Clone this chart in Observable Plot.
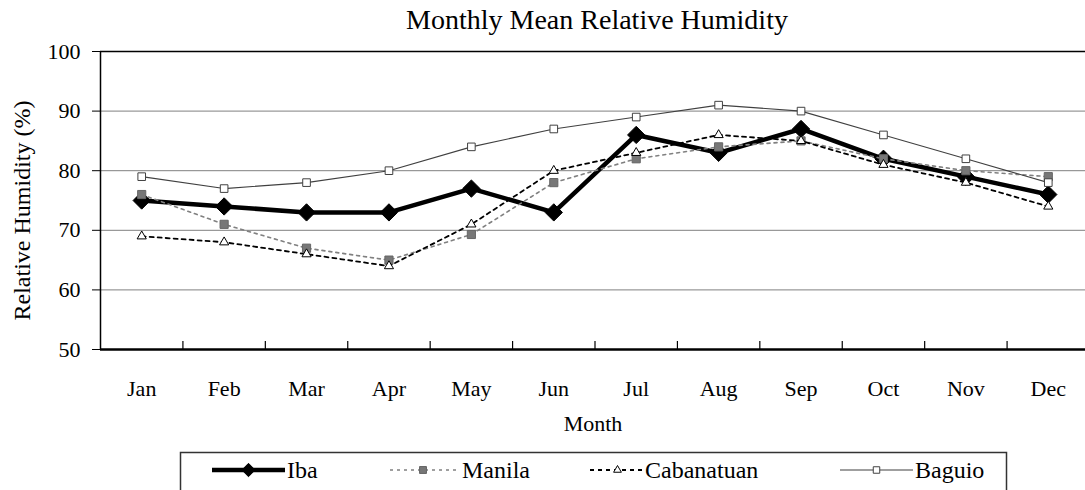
<!DOCTYPE html>
<html>
<head>
<meta charset="utf-8">
<script src="https://cdn.jsdelivr.net/npm/d3@7"></script>
<script src="https://cdn.jsdelivr.net/npm/@observablehq/plot@0.6"></script>
<style>
  html, body { margin: 0; padding: 0; background: #fff; overflow: hidden; width: 1085px; height: 490px; }
  #title { height: 40px; line-height: 40px; font-family: "Liberation Serif", "Times New Roman", serif; font-size: 28px; color: #000; padding-left: 109px; text-align: center; width: 976px; }
  #legend { position: absolute; left: 0; top: 450px; }
  svg text, svg g[aria-label$="tick label"] { font-family: "Liberation Serif", "Times New Roman", serif !important; font-weight: normal !important; }
</style>
</head>
<body>
<div id="title">Monthly Mean Relative Humidity</div>
<div id="chart"></div>
<div id="legend"></div>
<script>
const months = ["Jan","Feb","Mar","Apr","May","Jun","Jul","Aug","Sep","Oct","Nov","Dec"];
const iba        = [75, 74, 73, 73, 77, 73, 86, 83, 87, 82, 79, 76];
const manila     = [76, 71, 67, 65, 69.3, 78, 82, 84, 85, 82, 80, 79];
const cabanatuan = [69, 68, 66, 64, 71, 80, 83, 86, 85, 81, 78, 74];
const baguio     = [79, 77, 78, 80, 84, 87, 89, 91, 90, 86, 82, 78];
const seriesNames = ["Iba", "Manila", "Cabanatuan", "Baguio"];
const yTicks = [50, 60, 70, 80, 90, 100];

const seriesValues = [iba, manila, cabanatuan, baguio];
const FONT = "Liberation Serif";
const styles = {
  Iba:        {stroke: "#000", strokeWidth: 4.5, dash: null,  symbol: "diamond2", r: 7.8, fill: "#000", mstroke: "#000", mwidth: 1},
  Manila:     {stroke: "#808080", strokeWidth: 1.6, dash: "3,4", symbol: "square", r: 4.6, fill: "#777", mstroke: "#666", mwidth: 1},
  Cabanatuan: {stroke: "#000", strokeWidth: 1.8, dash: "4,4", symbol: "triangle", r: 3.4, fill: "#fff", mstroke: "#000", mwidth: 1},
  Baguio:     {stroke: "#404040", strokeWidth: 1.1, dash: null, symbol: "square", r: 4.3, fill: "#fff", mstroke: "#404040", mwidth: 1}
};

const rows = [];
seriesNames.forEach((s, k) => seriesValues[k].forEach((v, i) => rows.push({series: s, i, month: months[i], value: v})));
const xpos = d => d.i + 0.5;

const H = 410, mTop = 11, mBottom = 101;
const plotH = H - mTop - mBottom;

const seriesMarks = seriesNames.flatMap(s => {
  const st = styles[s];
  const data = rows.filter(d => d.series === s);
  return [
    Plot.line(data, {x: xpos, y: "value", stroke: st.stroke, strokeWidth: st.strokeWidth, strokeDasharray: st.dash, strokeLinejoin: "miter"}),
    Plot.dot(data, {x: xpos, y: "value", symbol: st.symbol, r: st.r, fill: st.fill, stroke: st.mstroke, strokeWidth: st.mwidth})
  ];
});

const chart = Plot.plot({
  width: 1085, height: H,
  marginLeft: 100, marginRight: 0, marginTop: mTop, marginBottom: mBottom,
  x: {type: "linear", domain: [0, 12], range: [100, 1089], axis: null},
  y: {domain: [50, 100], axis: null},
  style: {fontFamily: FONT, background: "white", color: "#000"},
  marks: [
    Plot.ruleY([60, 70, 80, 90], {stroke: "#808080", strokeWidth: 1}),
    Plot.ruleY([100], {stroke: "#000", strokeWidth: 1.5}),
    Plot.ruleX(d3.range(1, 12), {stroke: "#000", strokeWidth: 1.2, insetTop: plotH - 8}),
    Plot.axisY({ticks: yTicks, label: null, tickSize: 8, tickPadding: 12, fontSize: 22, fontFamily: FONT, fontWeight: "normal", tickFormat: d => String(d)}),
    Plot.axisX({ticks: months.map((m, i) => i + 0.5), label: null, tickSize: 0, tickPadding: 31, fontSize: 22, fontFamily: FONT, fontWeight: "normal", tickFormat: v => months[Math.round(v - 0.5)]}),
    Plot.ruleX([0], {stroke: "#000", strokeWidth: 1.5}),
    Plot.ruleY([50], {stroke: "#000", strokeWidth: 2.5}),
    ...seriesMarks,
    Plot.text(["Relative Humidity (%)"], {frameAnchor: "left", textAnchor: "middle", lineAnchor: "middle", rotate: -90, dx: -78, dy: 10, fontSize: 24, fontFamily: FONT}),
    Plot.text(["Month"], {frameAnchor: "bottom", textAnchor: "middle", lineAnchor: "middle", dy: 74, fontSize: 22, fontFamily: FONT})
  ]
});
document.getElementById("chart").appendChild(chart);

// legend
const legendItems = [
  {name: "Iba", x1: 212, x2: 285, tx: 287},
  {name: "Manila", x1: 390, x2: 456, tx: 462},
  {name: "Cabanatuan", x1: 590, x2: 645, tx: 645},
  {name: "Baguio", x1: 840, x2: 913, tx: 915}
];
const symMap = {diamond2: d3.symbolDiamond2, square: d3.symbolSquare, triangle: d3.symbolTriangle};
const lsvg = d3.select("#legend").append("svg").attr("width", 1085).attr("height", 40);
lsvg.append("rect").attr("x", 180.5).attr("y", 2.5).attr("width", 826).attr("height", 60)
  .attr("fill", "white").attr("stroke", "#333").attr("stroke-width", 1.5);
const ly = 20;
legendItems.forEach(it => {
  const st = styles[it.name];
  lsvg.append("line").attr("x1", it.x1).attr("x2", it.x2).attr("y1", ly).attr("y2", ly)
    .attr("stroke", st.stroke).attr("stroke-width", st.strokeWidth)
    .attr("stroke-dasharray", st.dash);
  const r = it.name === "Iba" ? 6 : st.r * 0.85;
  const size = Math.PI * r * r;
  lsvg.append("path").attr("d", d3.symbol(symMap[st.symbol], size)())
    .attr("transform", `translate(${(it.x1 + it.x2) / 2},${ly})`)
    .attr("fill", st.fill).attr("stroke", st.mstroke).attr("stroke-width", st.mwidth);
  lsvg.append("text").attr("x", it.tx).attr("y", 28).text(it.name)
    .attr("font-family", FONT).attr("font-size", 24).attr("fill", "#000");
});
</script>
</body>
</html>
